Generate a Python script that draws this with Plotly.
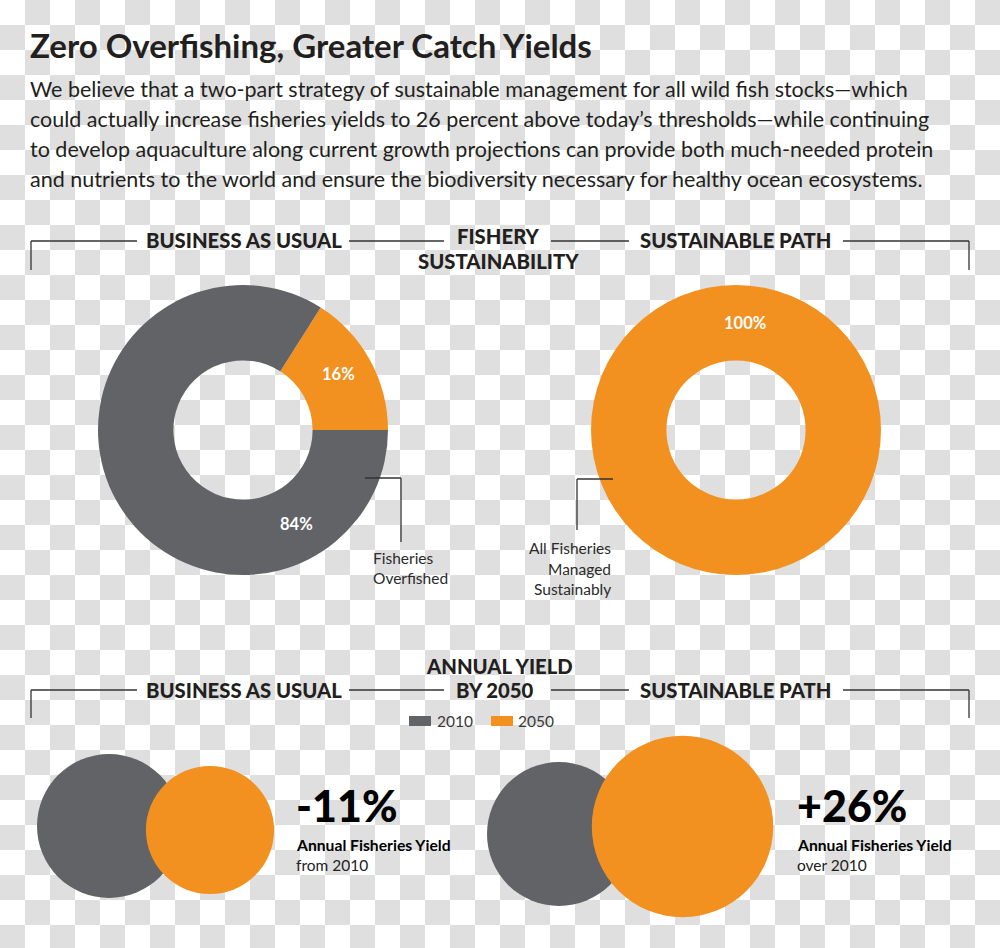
import base64
import plotly.graph_objects as go

# ---------------- data ----------------
bau_labels = ["Fisheries Managed Sustainably", "Fisheries Overfished"]
bau_values = [16, 84]
sust_labels = ["All Fisheries Managed Sustainably"]
sust_values = [100]

years = ["2010", "2050"]
scenarios = ["Business as usual", "Sustainable path"]
yield_2010 = [100, 100]      # index, 2010 = 100
yield_2050 = [89, 126]       # index relative to 2010
change_text = ["-11%", "+26%"]
change_sub = ["from 2010", "over 2010"]

title = "Zero Overfishing, Greater Catch Yields"
intro_lines = [
    "We believe that a two-part strategy of sustainable management for all wild fish stocks\u2014which",
    "could actually increase fisheries yields to 26 percent above today\u2019s thresholds\u2014while continuing",
    "to develop aquaculture along current growth projections can provide both much-needed protein",
    "and nutrients to the world and ensure the biodiversity necessary for healthy ocean ecosystems.",
]

# ---------------- style ----------------
W, H = 1000, 948
GRAY = "#626366"
ORANGE = "#f29120"
INK = "#231f20"
FONT = "Lato"


def px(x):
    return x / W


def py(y):
    return 1 - y / H


fig = go.Figure()

# donut 1: business as usual
c1x, c1y, R = 243, 430, 145
fig.add_trace(go.Pie(
    labels=bau_labels, values=bau_values, hole=0.48, sort=False,
    direction="counterclockwise", rotation=90 - 360 * bau_values[0] / sum(bau_values),
    marker=dict(colors=[ORANGE, GRAY], line=dict(width=0)),
    textinfo="none", showlegend=False,
    domain=dict(x=[px(c1x - R), px(c1x + R)], y=[py(c1y + R), py(c1y - R)]),
))
# donut 2: sustainable path
c2x, c2y = 736, 430
fig.add_trace(go.Pie(
    labels=sust_labels, values=sust_values, hole=0.48, sort=False,
    marker=dict(colors=[ORANGE], line=dict(width=0)),
    textinfo="none", showlegend=False,
    domain=dict(x=[px(c2x - R), px(c2x + R)], y=[py(c2y + R), py(c2y - R)]),
))

# yield circles (diameter proportional to yield index)
PX_PER_UNIT = 1.44
fig.add_trace(go.Scatter(
    x=[109, 559], y=[826, 834], mode="markers", name=years[0],
    marker=dict(size=[v * PX_PER_UNIT for v in yield_2010], color=GRAY, line=dict(width=0), opacity=1),
    showlegend=False, cliponaxis=False, hovertext=scenarios,
))
fig.add_trace(go.Scatter(
    x=[210, 682.5], y=[830, 826.5], mode="markers", name=years[1],
    marker=dict(size=[v * PX_PER_UNIT for v in yield_2050], color=ORANGE, line=dict(width=0), opacity=1),
    showlegend=False, cliponaxis=False, hovertext=scenarios,
))

ann = []


def text(x, y, s, size, color=INK, weight="normal", xanchor="left", family=FONT):
    ann.append(dict(x=x, y=y, xref="x", yref="y", text=s, showarrow=False,
                    xanchor=xanchor, yanchor="middle",
                    font=dict(family=family, size=size, color=color, weight=weight)))


text(28, 45, title, 33, weight="bold")
for i, line in enumerate(intro_lines):
    text(28, 89 + 30 * i, line, 21.5)

# section headers
HS = 20.3
HW = 900
text(243.5, 240, "BUSINESS AS USUAL", HS, weight=HW, xanchor="center")
text(735.5, 240, "SUSTAINABLE PATH", HS, weight=HW, xanchor="center")
text(498, 236, "FISHERY", HS, weight=HW, xanchor="center")
text(498, 261, "SUSTAINABILITY", HS, weight=HW, xanchor="center")
text(243.5, 690, "BUSINESS AS USUAL", HS, weight=HW, xanchor="center")
text(735.5, 690, "SUSTAINABLE PATH", HS, weight=HW, xanchor="center")
text(499, 666, "ANNUAL YIELD", HS, weight=HW, xanchor="center")
text(494.5, 690, "BY 2050", HS, weight=HW, xanchor="center")

# donut labels
text(338, 374, f"{bau_values[0]}%", 16.5, color="white", weight="bold", xanchor="center")
text(296, 524, f"{bau_values[1]}%", 16.5, color="white", weight="bold", xanchor="center")
text(745, 323, f"{sust_values[0]}%", 16.5, color="white", weight="bold", xanchor="center")

# callouts
CC = "#2b2b2b"
text(371, 558, "Fisheries", 15.5, color=CC)
text(371, 578, "Overfished", 15.5, color=CC)
text(613, 548, "All Fisheries", 15.5, color=CC, xanchor="right")
text(613, 569, "Managed", 15.5, color=CC, xanchor="right")
text(613, 589, "Sustainably", 15.5, color=CC, xanchor="right")

# legend
text(435, 721, years[0], 15.5, color="#3a3a3a")
text(516, 721, years[1], 15.5, color="#3a3a3a")

# change labels
for x0, big, sub in zip([294, 795], change_text, change_sub):
    text(x0, 805, big, 43, color="#000000", weight=900)
    text(x0, 845, "Annual Fisheries Yield", 15.7, color="#000000", weight="bold")
    text(x0, 865, sub, 15.5, color="#222222")

shapes = []
LINE = dict(color="#333333", width=1.3)


def seg(x0, y0, x1, y1):
    shapes.append(dict(type="line", xref="x", yref="y", x0=x0, y0=y0, x1=x1, y1=y1, line=LINE))


for yy, yb in ((241, 270), (690, 718)):
    seg(31, yy, 31, yb)
    seg(31, yy, 137, yy)
    seg(349, yy, 444, yy)
    seg(551, yy, 629, yy)
    seg(843, yy, 969, yy)
    seg(969, yy, 969, yb)

# callout leader lines
seg(365, 478, 401, 478)
seg(401, 478, 401, 542)
seg(613, 479, 577, 479)
seg(577, 479, 577, 530)

# legend swatches
shapes.append(dict(type="rect", xref="x", yref="y", x0=409, x1=431, y0=716, y1=726,
                   fillcolor=GRAY, line=dict(width=0)))
shapes.append(dict(type="rect", xref="x", yref="y", x0=491, x1=513, y0=716, y1=726,
                   fillcolor=ORANGE, line=dict(width=0)))

# checkerboard background
svg = ("<svg xmlns='http://www.w3.org/2000/svg' width='1000' height='948'>"
       "<defs><pattern id='p' width='50' height='50' patternUnits='userSpaceOnUse'>"
       "<rect width='50' height='50' fill='#ffffff'/>"
       "<rect x='25' y='0' width='25' height='25' fill='#dfdfdf'/>"
       "<rect x='0' y='25' width='25' height='25' fill='#dfdfdf'/>"
       "</pattern></defs><rect width='1000' height='948' fill='url(#p)'/></svg>")
uri = "data:image/svg+xml;base64," + base64.b64encode(svg.encode()).decode()

fig.update_layout(
    width=W, height=H, margin=dict(l=0, r=0, t=0, b=0),
    paper_bgcolor="rgba(0,0,0,0)", plot_bgcolor="rgba(0,0,0,0)",
    xaxis=dict(range=[0, W], visible=False, fixedrange=True, domain=[0, 1]),
    yaxis=dict(range=[H, 0], visible=False, fixedrange=True, domain=[0, 1]),
    annotations=ann, shapes=shapes, showlegend=False,
    images=[dict(source=uri, xref="paper", yref="paper", x=0, y=1, sizex=1, sizey=1,
                 xanchor="left", yanchor="top", sizing="stretch", layer="below")],
)

fig.write_html("out.html", config={"displayModeBar": False},
               post_script="document.body.style.margin='0';document.body.style.overflow='hidden';")
